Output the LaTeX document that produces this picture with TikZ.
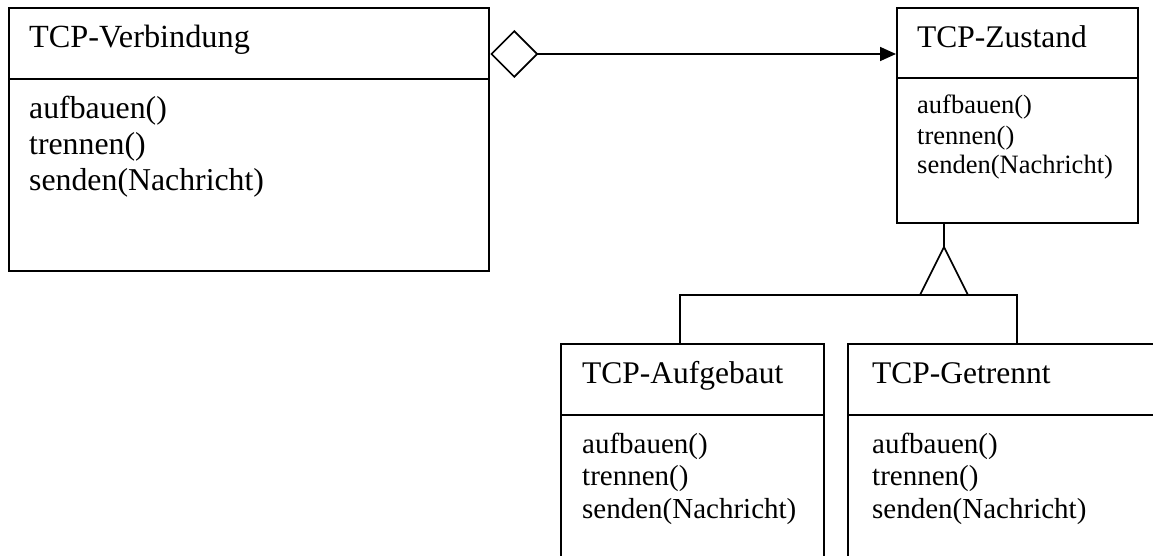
\documentclass[tikz,border=0pt]{standalone}
\usepackage{fontspec}
\setmainfont{Liberation Serif}
\usetikzlibrary{arrows.meta}
\begin{document}
\begin{tikzpicture}[x=1pt,y=-1pt,
  box/.style={draw,line width=2.3pt,anchor=north west,inner sep=0pt,minimum width=#1},
  conn/.style={line width=1.7pt},
  sep/.style={line width=2.3pt},
  ttl/.style={anchor=base west,inner sep=0pt,font=\fontsize{31.5}{36}\selectfont},
  mbig/.style={anchor=base west,inner sep=0pt,font=\fontsize{31.8}{36}\selectfont},
  mmid/.style={anchor=base west,inner sep=0pt,font=\fontsize{29}{33}\selectfont},
  msmall/.style={anchor=base west,inner sep=0pt,font=\fontsize{26.5}{30}\selectfont}]
\useasboundingbox (0,0) rectangle (1153,556);
\clip (0,0) rectangle (1153,556);
% boxes
\node[box=480pt,minimum height=263pt] (v) at (8,7) {};
\node[box=241pt,minimum height=215pt] (z) at (896,7) {};
\node[box=263pt,minimum height=260pt] (a) at (560,343) {};
\node[box=350pt,minimum height=260pt] (g) at (847,343) {};
% separators
\draw[sep] (v.west |- 0,79) -- (v.east |- 0,79);
\draw[sep] (z.west |- 0,78) -- (z.east |- 0,78);
\draw[sep] (a.west |- 0,415) -- (a.east |- 0,415);
\draw[sep] (g.west |- 0,415) -- (g.east |- 0,415);
% titles
\node[ttl,font=\fontsize{32.3}{36}\selectfont] (vt) at (29,48) {TCP-Verbindung};
\node[ttl] (zt) at (917,47.5) {TCP-Zustand};
\node[ttl] (at) at (582,383) {TCP-Aufgebaut};
\node[ttl] (gt) at (872,383) {TCP-Getrennt};
% methods
\node[mbig] (v1) at (29,119) {aufbauen()};
\node[mbig] (v2) at (29,155) {trennen()};
\node[mbig] (v3) at (29,191) {senden(Nachricht)};
\node[msmall] (z1) at (917,114) {aufbauen()};
\node[msmall] (z2) at (917,144.5) {trennen()};
\node[msmall] (z3) at (917,174) {senden(Nachricht)};
\node[mmid] (a1) at (582,453) {aufbauen()};
\node[mmid] (a2) at (582,485.5) {trennen()};
\node[mmid] (a3) at (582,518.5) {senden(Nachricht)};
\node[mmid] (g1) at (872,453) {aufbauen()};
\node[mmid] (g2) at (872,485.5) {trennen()};
\node[mmid] (g3) at (872,518.5) {senden(Nachricht)};
% aggregation
\draw[conn,{Diamond[open,length=48pt,width=48pt]}-{Triangle[length=16pt,width=14pt]}]
  (v.east |- 0,54) -- (z.west |- 0,54);
% generalization
\coordinate (gapex) at (944,247);
\coordinate (gbase) at (944,295);
\draw[conn] (z.south -| gapex) -- (gapex);
\draw[conn,line join=miter] (gapex) -- ++(-24,48) -- ++(48,0) -- cycle;
\draw[conn] (a.north -| 680,0) |- (gbase) -| (g.north -| 1017,0);
\end{tikzpicture}
\end{document}
